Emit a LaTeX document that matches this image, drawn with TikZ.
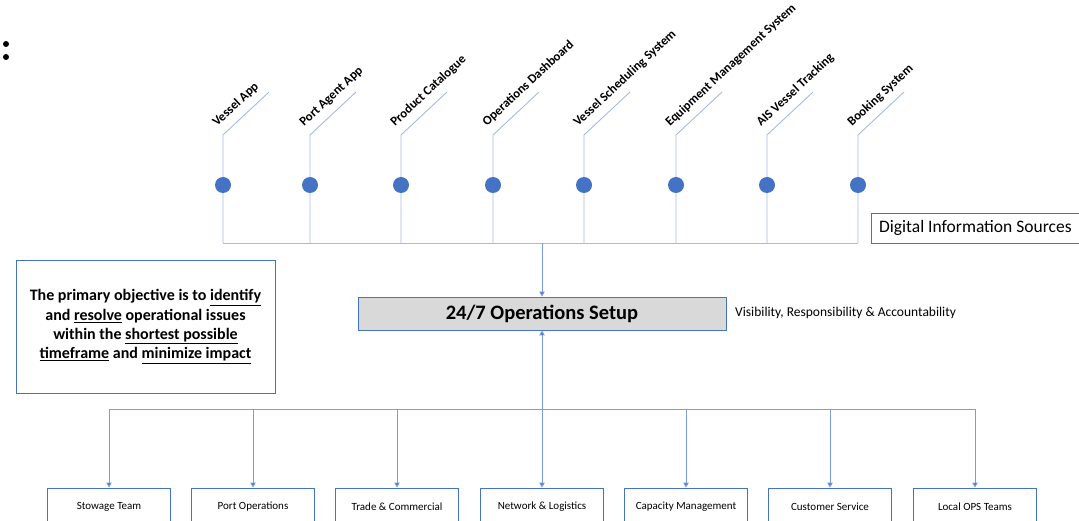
\documentclass[tikz,border=0pt]{standalone}
\usepackage{fontspec}
\setmainfont{Carlito}
\usetikzlibrary{arrows.meta}
\definecolor{accent}{HTML}{4472C4}
\definecolor{thinline}{HTML}{A4BBE6}
\definecolor{treeline}{HTML}{7D9DDB}
\definecolor{boxgray}{HTML}{D9D9D9}

\tikzset{
  srcline/.style={draw=thinline, line width=0.9pt},
  treelink/.style={draw=treeline, line width=0.9pt},
  flow/.style={draw=treeline, line width=0.9pt,
    -{Triangle[width=5.5pt,length=5pt,fill=accent]}},
  srcdot/.style={circle, fill=accent, draw=none, minimum size=16pt, inner sep=0pt},
  srclabel/.style={rotate=43, anchor=base west, inner sep=0pt,
    font=\bfseries\fontsize{12.8}{14}\selectfont},
  teambox/.style={draw=accent, line width=0.9pt, fill=white,
    minimum width=123pt, minimum height=37pt, inner sep=0pt,
    font=\fontsize{11}{13}\selectfont},
  plainbox/.style={draw=accent, line width=0.9pt, fill=white, inner sep=0pt},
  bulletdot/.style={circle, fill=black, minimum size=6pt, inner sep=0pt}
}

\begin{document}
\begin{tikzpicture}[x=1pt,y=-1pt]
  \useasboundingbox (0,0) rectangle (1079,521);
  \clip (0,0) rectangle (1079,521);

  % stray bullet marks in the top-left corner
  \node[bulletdot] (p1) at (6,44) {};
  \node[bulletdot] (p2) at (6,57) {};

  % digital information sources: label, bent leader, dot, drop to the bus
  \foreach \i/\x/\name in {1/223/Vessel App,2/310/Port Agent App,3/401/Product Catalogue,
      4/493/Operations Dashboard,5/584/Vessel Scheduling System,
      6/676/Equipment Management System,7/767/AIS Vessel Tracking,8/858/Booking System}{
    \coordinate (b\i) at (\x,135);
    \coordinate (e\i) at (\x+46,92);
    \coordinate (d\i) at (\x,243);
    \node[srcdot] (s\i) at (\x,185) {};
    \node[srclabel] (l\i) at (\x-6,127) {\name};
    \draw[srcline] (e\i) -- (b\i) -- (s\i) -- (d\i);
  }
  \draw[srcline] (d1) -- (d8);

  \node[anchor=west, inner sep=0pt, font=\fontsize{17.5}{20}\selectfont]
        (dis) at (879,228) {Digital Information Sources};
  \draw[accent, line width=0.9pt, fill=none]
        (871,213) rectangle (1085,243);

  % central operations box
  \node[draw=accent, line width=0.9pt, fill=boxgray, minimum width=368pt,
        minimum height=33pt, inner sep=0pt,
        font=\bfseries\fontsize{20.5}{23}\selectfont]
        (ops) at (542,313.5) {24/7 Operations Setup};
  \coordinate (busin) at (542,243);
  \draw[flow] (busin) -- (ops.north);

  \node[anchor=west, inner sep=0pt, font=\fontsize{13.5}{15}\selectfont]
        (vra) at (735,313) {Visibility, Responsibility \& Accountability};

  % objective statement
  \node[plainbox, minimum width=259pt, minimum height=133pt, align=center,
        font=\bfseries\fontsize{16}{19.3}\selectfont]
        (obj) at (145.5,326.5)
        {The primary objective is to \underline{identify}\\
         and \underline{resolve} operational issues\\
         within the \underline{shortest possible}\\
         \underline{timeframe} and \underline{minimize impact}};

  % teams fed by the operations setup
  \coordinate (busout) at (542,409);
  \draw[flow] (busout) -- (ops.south);
  \foreach \i/\x/\name in {1/109/Stowage Team,2/253/Port Operations,3/397/Trade \& Commercial,
      4/542/Network \& Logistics,5/686/Capacity Management,6/830/Customer Service,
      7/975/Local OPS Teams}{
    \node[teambox] (t\i) at (\x,506.5) {\name};
    \coordinate (f\i) at (\x,409);
    \draw[flow] (f\i) -- (t\i.north);
  }
  \draw[treelink] (f1) -- (f7);
\end{tikzpicture}
\end{document}
